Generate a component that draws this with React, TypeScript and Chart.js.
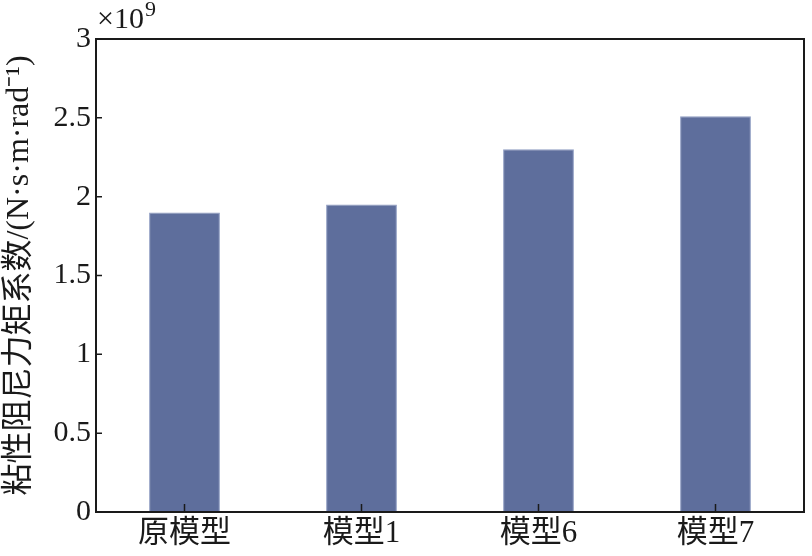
import React, { useEffect, useRef } from "react";
import { Chart, registerables } from "chart.js";

Chart.register(...registerables);

const categories = ["原模型", "模型1", "模型6", "模型7"];
const dampingValues = [1.9e9, 1.95e9, 2.3e9, 2.51e9];
const yTitle = "粘性阻尼力矩系数/(N·s·m·rad⁻¹)";
const exponentBase = "×10";
const exponentPower = "9";

const FONT = '"Liberation Serif", "Noto Sans CJK SC", serif';
const INK = "#1a1a1a";

const framePlugin = {
  id: "frameTicks",
  afterDraw(chart: any) {
    const ctx: CanvasRenderingContext2D = chart.ctx;
    const { chartArea, scales } = chart;
    const { left, right, top, bottom } = chartArea;
    ctx.save();
    ctx.strokeStyle = INK;
    ctx.lineWidth = 2;
    ctx.strokeRect(left, top, right - left, bottom - top);
    ctx.lineWidth = 1.5;
    ctx.beginPath();
    scales.y.ticks.forEach((t: any) => {
      const y = scales.y.getPixelForValue(t.value);
      ctx.moveTo(left, y);
      ctx.lineTo(left + 6, y);
    });
    categories.forEach((_, i) => {
      const x = scales.x.getPixelForValue(i);
      ctx.moveTo(x, bottom);
      ctx.lineTo(x, bottom - 8);
    });
    ctx.stroke();
    ctx.restore();

    // exponent label
    ctx.save();
    ctx.fillStyle = INK;
    ctx.textBaseline = "alphabetic";
    ctx.textAlign = "left";
    ctx.font = "30px serif";
    ctx.fillText(exponentBase, left + 1, top - 11);
    const w = ctx.measureText(exponentBase).width;
    ctx.font = "22px serif";
    ctx.fillText(exponentPower, left + 1 + w + 1, top - 23);
    ctx.restore();
  },
};

export default function App() {
  const ref = useRef<HTMLCanvasElement | null>(null);
  useEffect(() => {
    document.body.style.margin = "0";
    const chart = new Chart(ref.current!, {
      type: "bar",
      data: {
        labels: categories,
        datasets: [
          {
            data: dampingValues,
            backgroundColor: "#5e6e9c",
            borderColor: "#8e9cc2",
            borderWidth: 1,
            barPercentage: 0.4,
            categoryPercentage: 1,
          },
        ],
      },
      options: {
        animation: false,
        responsive: false,
        maintainAspectRatio: false,
        layout: { padding: { top: 39, right: 8, left: 0, bottom: 0 } },
        plugins: { legend: { display: false }, tooltip: { enabled: false } },
        scales: {
          x: {
            grid: { display: false, drawTicks: false },
            border: { display: false },
            ticks: { color: INK, font: { family: FONT, size: 31 }, padding: 3 },
            afterFit: (s: any) => {
              s.height = 44;
            },
          },
          y: {
            min: 0,
            max: 3e9,
            grid: { display: false, drawTicks: false },
            border: { display: false },
            ticks: {
              stepSize: 0.5e9,
              color: INK,
              font: { family: FONT, size: 30 },
              padding: 5,
              callback: (v: any) => String(Number(v) / 1e9),
            },
            title: {
              display: true,
              text: yTitle,
              color: INK,
              font: { family: FONT, size: 32 },
              padding: { top: 0, bottom: 0 },
            },
            afterFit: (s: any) => {
              s.width = 96;
            },
          },
        },
      },
      plugins: [framePlugin],
    });
    return () => chart.destroy();
  }, []);
  return (
    <div style={{ position: "relative", width: 812, height: 556 }}>
      <canvas ref={ref} width={812} height={556} style={{ display: "block" }} />
    </div>
  );
}
